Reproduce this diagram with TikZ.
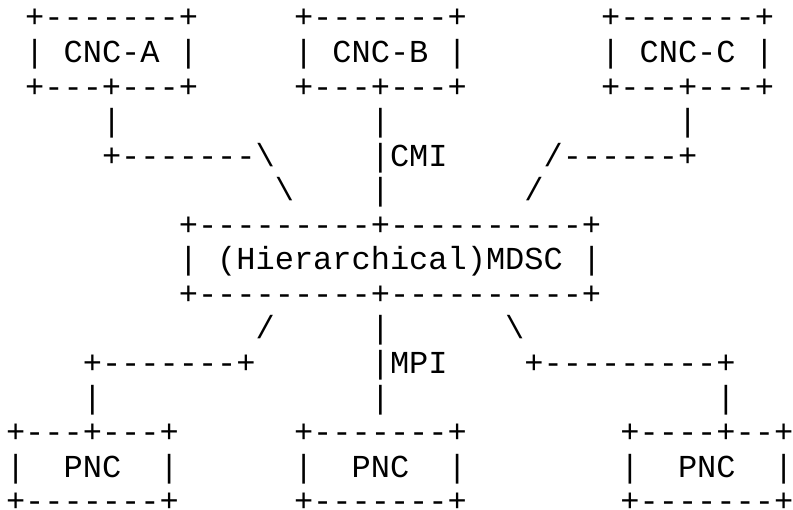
\documentclass[tikz,border=0pt]{standalone}
\usepackage{fontspec}
\setmonofont{Liberation Mono}
\tikzset{asc/.style={anchor=base west,inner sep=0pt,outer sep=0pt,text depth=0pt,text=black,font=\fontsize{32}{34.6}\selectfont\ttfamily}}
\newcommand\asc[4]{\node[asc] (#1) at ({6pt+#3*19.2pt},{-28pt-#2*34.55pt}) {#4};}
\begin{document}
\begin{tikzpicture}
\fill[white] (0,0) rectangle (793pt,-510pt);
\useasboundingbox (0,0) rectangle (793pt,-510pt);
% row 0
\asc{atop}{0}{1}{+-------+}
\asc{btop}{0}{15}{+-------+}
\asc{ctop}{0}{31}{+-------+}
% row 1
\asc{al}{1}{1}{|}\asc{a}{1}{3}{CNC-A}\asc{ar}{1}{9}{|}
\asc{bl}{1}{15}{|}\asc{b}{1}{17}{CNC-B}\asc{br}{1}{23}{|}
\asc{cl}{1}{31}{|}\asc{c}{1}{33}{CNC-C}\asc{cr}{1}{39}{|}
% row 2
\asc{abot}{2}{1}{+---+---+}
\asc{bbot}{2}{15}{+---+---+}
\asc{cbot}{2}{31}{+---+---+}
% row 3
\asc{av1}{3}{5}{|}\asc{bv1}{3}{19}{|}\asc{cv1}{3}{35}{|}
% row 4
\asc{ah}{4}{5}{+-------\textbackslash}
\asc{cmi}{4}{19}{|CMI}
\asc{ch}{4}{28}{/------+}
% row 5
\asc{ad}{5}{14}{\textbackslash}\asc{bv2}{5}{19}{|}\asc{cd}{5}{27}{/}
% rows 6-8
\asc{mtop}{6}{9}{+---------+----------+}
\asc{ml}{7}{9}{|}\asc{mdsc}{7}{11}{(Hierarchical)MDSC}\asc{mr}{7}{30}{|}
\asc{mbot}{8}{9}{+---------+----------+}
% row 9
\asc{pd1}{9}{13}{/}\asc{pv1}{9}{19}{|}\asc{pd3}{9}{26}{\textbackslash}
% row 10
\asc{ph1}{10}{4}{+-------+}
\asc{mpi}{10}{19}{|MPI}
\asc{ph3}{10}{27}{+---------+}
% row 11
\asc{pv1b}{11}{4}{|}\asc{pv2b}{11}{19}{|}\asc{pv3b}{11}{37}{|}
% row 12
\asc{p1top}{12}{0}{+---+---+}
\asc{p2top}{12}{15}{+-------+}
\asc{p3top}{12}{32}{+----+--+}
% row 13
\asc{p1l}{13}{0}{|}\asc{p1}{13}{3}{PNC}\asc{p1r}{13}{8}{|}
\asc{p2l}{13}{15}{|}\asc{p2}{13}{18}{PNC}\asc{p2r}{13}{23}{|}
\asc{p3l}{13}{32}{|}\asc{p3}{13}{35}{PNC}\asc{p3r}{13}{40}{|}
% row 14
\asc{p1bot}{14}{0}{+-------+}
\asc{p2bot}{14}{15}{+-------+}
\asc{p3bot}{14}{32}{+-------+}
\end{tikzpicture}
\end{document}
